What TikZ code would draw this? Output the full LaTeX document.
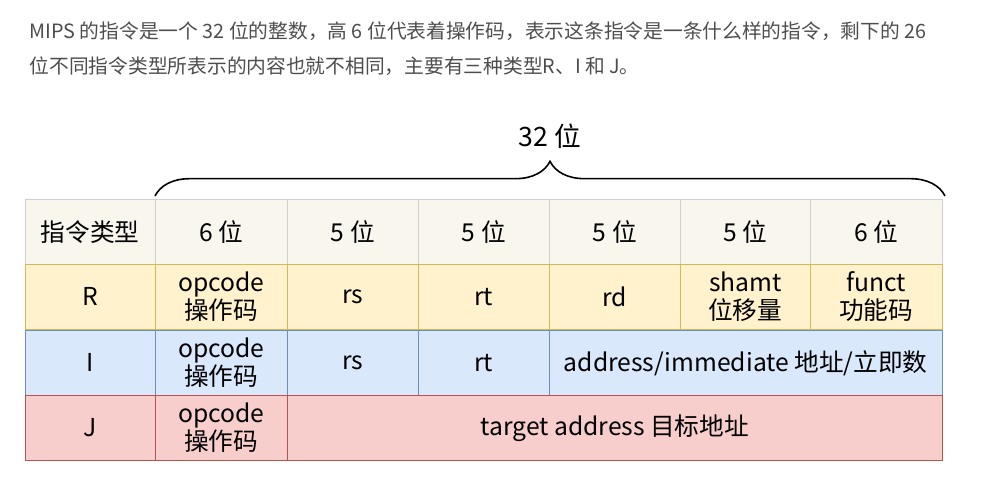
\documentclass[tikz,border=0pt]{standalone}
\usepackage{fontspec}
\setmainfont{Noto Sans CJK SC}
\usepackage{tikz}
\usetikzlibrary{decorations.pathreplacing}
\definecolor{hdfill}{HTML}{F9F7ED}
\definecolor{hdline}{HTML}{D0D0D0}
\definecolor{rfill}{HTML}{FFF2CC}
\definecolor{rline}{HTML}{D6B656}
\definecolor{ifill}{HTML}{DAE8FC}
\definecolor{iline}{HTML}{6C8EBF}
\definecolor{jfill}{HTML}{F8CECC}
\definecolor{jline}{HTML}{B85450}
\definecolor{txt}{HTML}{4D4D4D}
% cell: style, name, x-left, x-right, y-top, text
\newcommand{\cell}[6]{%
  \node[#1, minimum width={(#4-#3)*0.75pt}, minimum height=49pt, anchor=north west]
    (#2) at (#3,#5) {#6};}
\begin{document}
\begin{tikzpicture}[x=0.75pt, y=-0.75pt,
    hd/.style={draw=hdline, fill=hdfill, inner sep=0pt, font=\fontsize{18.5}{20}\selectfont},
    rrow/.style={draw=rline, fill=rfill, inner sep=0pt, align=center, font=\fontsize{18.5}{21}\selectfont},
    irow/.style={draw=iline, fill=ifill, inner sep=0pt, align=center, font=\fontsize{18.5}{21}\selectfont},
    jrow/.style={draw=jline, fill=jfill, inner sep=0pt, align=center, font=\fontsize{18.5}{21}\selectfont}]
  \useasboundingbox (0,0) rectangle (995,480);
  % intro text
  \node[anchor=west, text=txt, font=\fontsize{14.8}{16}\selectfont] (line1) at (25,31)
    {MIPS 的指令是一个 32 位的整数，高 6 位代表着操作码，表示这条指令是一条什么样的指令，剩下的 26};
  \node[anchor=west, text=txt, font=\fontsize{14.8}{16}\selectfont] (line2) at (25,66)
    {位不同指令类型所表示的内容也就不相同，主要有三种类型R、I 和 J。};
  % header
  \cell{hd}{h0}{25}{155}{199}{指令类型}
  \cell{hd}{h1}{155}{287}{199}{6 位}
  \cell{hd}{h2}{287}{418}{199}{5 位}
  \cell{hd}{h3}{418}{549}{199}{5 位}
  \cell{hd}{h4}{549}{680}{199}{5 位}
  \cell{hd}{h5}{680}{810}{199}{5 位}
  \cell{hd}{h6}{810}{942}{199}{6 位}
  % R type
  \cell{rrow}{r0}{25}{155}{264}{R}
  \cell{rrow}{r1}{155}{287}{264}{opcode\\操作码}
  \cell{rrow}{r2}{287}{418}{264}{rs}
  \cell{rrow}{r3}{418}{549}{264}{rt}
  \cell{rrow}{r4}{549}{680}{264}{rd}
  \cell{rrow}{r5}{680}{810}{264}{shamt\\位移量}
  \cell{rrow}{r6}{810}{942}{264}{funct\\功能码}
  % I type
  \cell{irow}{i0}{25}{155}{330}{I}
  \cell{irow}{i1}{155}{287}{330}{opcode\\操作码}
  \cell{irow}{i2}{287}{418}{330}{rs}
  \cell{irow}{i3}{418}{549}{330}{rt}
  \cell{irow}{i4}{549}{942}{330}{address/immediate 地址/立即数}
  % J type
  \cell{jrow}{j0}{25}{155}{395}{J}
  \cell{jrow}{j1}{155}{287}{395}{opcode\\操作码}
  \cell{jrow}{j2}{287}{942}{395}{target address 目标地址}
  % brace
  \coordinate (bl) at (155,196);
  \coordinate (br) at (945,196);
  \draw[line width=1.2pt, decorate, decoration={brace, amplitude=26pt}] (bl) -- (br)
    node[midway, above=32pt, font=\fontsize{20}{22}\selectfont] (total) {32 位};
\end{tikzpicture}
\end{document}
